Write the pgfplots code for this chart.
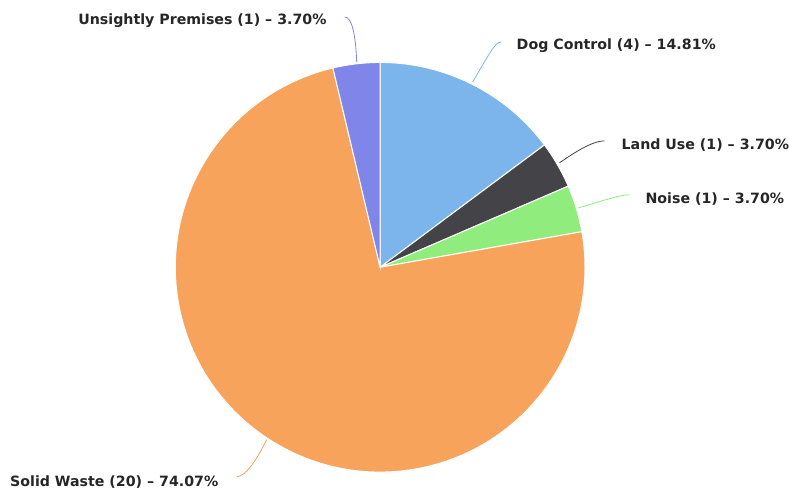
\documentclass[border=0pt]{standalone}
\usepackage{pgfplots}
\usepackage{pgfplotstable}
\pgfplotsset{compat=1.18}
\usepackage{fontspec}
\setmainfont{DejaVu Sans}
\definecolor{cDog}{HTML}{7CB5EC}
\definecolor{cLand}{HTML}{434348}
\definecolor{cNoise}{HTML}{90ED7D}
\definecolor{cSolid}{HTML}{F7A35C}
\definecolor{cUns}{HTML}{8085E9}
\pgfplotstableread{
name count
Dog 4
Land 1
Noise 1
Solid 20
Uns 1
}\piedata
\begin{document}
\begin{tikzpicture}
\pgfplotstablegetelem{0}{count}\of\piedata\let\vA\pgfplotsretval
\pgfplotstablegetelem{1}{count}\of\piedata\let\vB\pgfplotsretval
\pgfplotstablegetelem{2}{count}\of\piedata\let\vC\pgfplotsretval
\pgfplotstablegetelem{3}{count}\of\piedata\let\vD\pgfplotsretval
\pgfplotstablegetelem{4}{count}\of\piedata\let\vE\pgfplotsretval
\pgfmathsetmacro\tot{\vA+\vB+\vC+\vD+\vE}
\pgfmathsetmacro\aA{90}
\pgfmathsetmacro\aB{\aA-360*\vA/\tot}
\pgfmathsetmacro\aC{\aB-360*\vB/\tot}
\pgfmathsetmacro\aD{\aC-360*\vC/\tot}
\pgfmathsetmacro\aE{\aD-360*\vD/\tot}
\pgfmathsetmacro\aF{\aE-360*\vE/\tot}
\begin{axis}[
  scale only axis, width=789pt, height=494pt,
  xmin=0, xmax=789, ymin=0, ymax=494,
  hide axis, clip=false,
]
\addplot[draw=none, forget plot] coordinates {(0,0) (789,494)};
\def\cx{380.5}\def\cy{226.5}
\draw[fill=cDog, draw=white, line width=1pt] (axis cs:\cx,\cy) -- ++(\aA:205pt) arc[start angle=\aA, end angle=\aB, radius=205pt] -- cycle;
\draw[fill=cLand, draw=white, line width=1pt] (axis cs:\cx,\cy) -- ++(\aB:205pt) arc[start angle=\aB, end angle=\aC, radius=205pt] -- cycle;
\draw[fill=cNoise, draw=white, line width=1pt] (axis cs:\cx,\cy) -- ++(\aC:205pt) arc[start angle=\aC, end angle=\aD, radius=205pt] -- cycle;
\draw[fill=cSolid, draw=white, line width=1pt] (axis cs:\cx,\cy) -- ++(\aD:205pt) arc[start angle=\aD, end angle=\aE, radius=205pt] -- cycle;
\draw[fill=cUns, draw=white, line width=1pt] (axis cs:\cx,\cy) -- ++(\aE:205pt) arc[start angle=\aE, end angle=\aF, radius=205pt] -- cycle;
% connectors
\draw[cDog, line width=0.8pt] (axis cs:473,412) .. controls (axis cs:490,440) and (axis cs:495,452) .. (axis cs:502,452);
\draw[cLand, line width=0.8pt] (axis cs:560,331) .. controls (axis cs:580,345) and (axis cs:595,353) .. (axis cs:605,353);
\draw[cNoise, line width=0.8pt] (axis cs:579,286) .. controls (axis cs:600,292) and (axis cs:620,299) .. (axis cs:630,299);
\draw[cSolid, line width=0.8pt] (axis cs:267,54) .. controls (axis cs:255,30) and (axis cs:245,17) .. (axis cs:237,17);
\draw[cUns, line width=0.8pt] (axis cs:357,432) .. controls (axis cs:356,460) and (axis cs:352,477) .. (axis cs:345,477);
% labels
\tikzset{lbl/.style={font=\bfseries\fontsize{14.2}{16}\selectfont, text=black!85, inner sep=0pt}}
\node[lbl, anchor=west] at (axis cs:517,448) {Dog Control (4) – 14.81\%};
\node[lbl, anchor=west] at (axis cs:622,349) {Land Use (1) – 3.70\%};
\node[lbl, anchor=west] at (axis cs:646,295) {Noise (1) – 3.70\%};
\node[lbl, anchor=west] at (axis cs:10,12) {Solid Waste (20) – 74.07\%};
\node[lbl, anchor=east] at (axis cs:327,473) {Unsightly Premises (1) – 3.70\%};
\end{axis}
\end{tikzpicture}
\end{document}
